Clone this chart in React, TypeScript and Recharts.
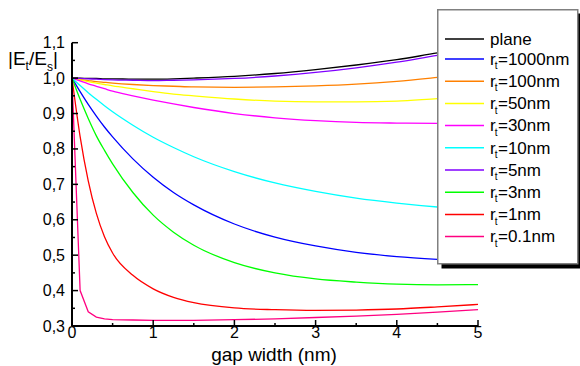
import { LineChart, Line, XAxis, YAxis } from "recharts";

const gapWidth = [0, 0.1, 0.2, 0.3, 0.4, 0.5, 0.75, 1, 1.25, 1.5, 2, 2.5, 3, 3.5, 4, 4.5, 5];

const plane = [1.0, 1.0, 0.999, 0.999, 0.998, 0.998, 0.997, 0.997, 0.998, 1.0, 1.005, 1.013, 1.024, 1.037, 1.052, 1.071, 1.088];
const rt1000 = [1.0, 0.962, 0.926, 0.893, 0.862, 0.834, 0.772, 0.72, 0.677, 0.642, 0.588, 0.551, 0.526, 0.508, 0.496, 0.488, 0.482];
const rt100 = [1.0, 0.996, 0.993, 0.99, 0.988, 0.986, 0.982, 0.979, 0.977, 0.975, 0.974, 0.975, 0.978, 0.983, 0.991, 1.002, 1.014];
const rt50 = [1.0, 0.995, 0.99, 0.986, 0.982, 0.978, 0.97, 0.962, 0.955, 0.95, 0.941, 0.935, 0.933, 0.933, 0.935, 0.942, 0.948];
const rt30 = [1.0, 0.992, 0.984, 0.977, 0.97, 0.963, 0.95, 0.938, 0.927, 0.917, 0.9, 0.888, 0.88, 0.875, 0.873, 0.872, 0.872];
const rt10 = [1.0, 0.979, 0.959, 0.94, 0.922, 0.905, 0.867, 0.833, 0.804, 0.778, 0.736, 0.704, 0.68, 0.661, 0.647, 0.636, 0.628];
const rt5 = [1.0, 0.999, 0.998, 0.997, 0.996, 0.995, 0.994, 0.993, 0.994, 0.995, 0.999, 1.006, 1.016, 1.029, 1.045, 1.064, 1.081];
const rt3 = [1.0, 0.94, 0.886, 0.837, 0.796, 0.758, 0.677, 0.613, 0.565, 0.528, 0.479, 0.45, 0.433, 0.424, 0.418, 0.416, 0.417];
const rt1 = [1.0, 0.835, 0.71, 0.618, 0.552, 0.506, 0.443, 0.405, 0.381, 0.366, 0.351, 0.346, 0.344, 0.345, 0.348, 0.354, 0.361];
const rt01 = [1.0, 0.4, 0.34, 0.325, 0.32, 0.318, 0.317, 0.316, 0.316, 0.316, 0.318, 0.32, 0.324, 0.328, 0.333, 0.339, 0.346];

const seriesValues = [plane, rt1000, rt100, rt50, rt30, rt10, rt5, rt3, rt1, rt01];
const seriesNames = ["plane", "1000nm", "100nm", "50nm", "30nm", "10nm", "5nm", "3nm", "1nm", "0.1nm"];
const seriesColors = ["#000000", "#0000ff", "#ff8000", "#ffff00", "#ff00ff", "#00ffff", "#8000ff", "#00ff00", "#ff0000", "#ff0080"];

const xTicks = [0, 0.5, 1, 1.5, 2, 2.5, 3, 3.5, 4, 4.5, 5];
const yTicks = [0.3, 0.35, 0.4, 0.45, 0.5, 0.55, 0.6, 0.65, 0.7, 0.75, 0.8, 0.85, 0.9, 0.95, 1.0, 1.05, 1.1];

const rows = gapWidth.map((x, i) => {
  const row: Record<string, number> = { x };
  seriesValues.forEach((s, k) => {
    row[`s${k}`] = s[i];
  });
  return row;
});

const FONT = "Arial, 'Liberation Sans', sans-serif";
const LEFT = 72;
const BOTTOM = 326;

const isMajor = (v: number, step: number) => Math.abs(v / step - Math.round(v / step)) < 1e-6;

const YTick = ({ y, payload }: any) => {
  const major = isMajor(payload.value, 0.1);
  return (
    <g>
      <line x1={LEFT} x2={LEFT + (major ? 6 : 3)} y1={y} y2={y} stroke="#000" strokeWidth={1.5} />
      {major && (
        <text x={65} y={y + 5.5} textAnchor="end" fontSize={16} fontFamily={FONT} fill="#000">
          {payload.value.toFixed(1).replace(".", ",")}
        </text>
      )}
    </g>
  );
};

const XTick = ({ x, payload }: any) => {
  const major = isMajor(payload.value, 1);
  return (
    <g>
      <line x1={x} x2={x} y1={BOTTOM} y2={BOTTOM - (major ? 6 : 3)} stroke="#000" strokeWidth={1.5} />
      {major && (
        <text x={x} y={BOTTOM + 11.5} textAnchor="middle" fontSize={16} fontFamily={FONT} fill="#000">
          {payload.value}
        </text>
      )}
    </g>
  );
};

const LegendBox = () => (
  <svg width={146} height={262} style={{ position: "absolute", left: 437, top: 9 }}>
    <rect x={4.5} y={4.5} width={141} height={255} fill="#000" />
    <rect x={0.75} y={0.75} width={140} height={254} fill="#fff" stroke="#808080" strokeWidth={1.5} />
    {seriesNames.map((name, i) => {
      const y = i === 0 ? 30 : 50 + (i - 1) * 22.2;
      return (
        <g key={name}>
          <line x1={8} x2={47} y1={y} y2={y} stroke={seriesColors[i]} strokeWidth={1.5} />
          <text x={53} y={y + 5.7} fontSize={17} fontFamily={FONT} fill="#000">
            {i === 0 ? (
              name
            ) : (
              <>
                r
                <tspan fontSize={10} dx={-1} dy={4.5}>t</tspan>
                <tspan fontSize={17} dx={0.5} dy={-4.5}>={name}</tspan>
              </>
            )}
          </text>
        </g>
      );
    })}
  </svg>
);

export default function App() {
  return (
    <div style={{ position: "absolute", left: 0, top: 0, width: 580, height: 366, background: "#fff" }}>
      <LineChart width={580} height={366} data={rows} margin={{ top: 42.7, right: 102, bottom: 10, left: 8 }}>
        <XAxis
          type="number"
          dataKey="x"
          domain={[0, 5]}
          ticks={xTicks}
          interval={0}
          tickLine={false}
          tickSize={0}
          height={30}
          axisLine={{ stroke: "#000", strokeWidth: 2 }}
          tick={<XTick />}
          label={{
            content: () => (
              <text x={274} y={361} textAnchor="middle" fontSize={19} fontFamily={FONT} fill="#000">
                gap width (nm)
              </text>
            ),
          }}
        />
        <YAxis
          type="number"
          domain={[0.3, 1.1]}
          ticks={yTicks}
          interval={0}
          allowDataOverflow
          width={64}
          tickLine={false}
          tickSize={0}
          axisLine={{ stroke: "#000", strokeWidth: 2 }}
          tick={<YTick />}
          label={{
            content: () => (
              <text x={8} y={65} fontSize={19} fontFamily={FONT} fill="#000">
                |E
                <tspan fontSize={12} dy={5}>t</tspan>
                <tspan fontSize={19} dy={-5}>/E</tspan>
                <tspan fontSize={12} dy={6}>s</tspan>
                <tspan fontSize={19} dy={-6}>|</tspan>
              </text>
            ),
          }}
        />
        {seriesValues.map((_, k) => (
          <Line
            key={k}
            type={k === 9 ? "linear" : "monotone"}
            dataKey={`s${k}`}
            stroke={seriesColors[k]}
            strokeWidth={1.3}
            dot={false}
            isAnimationActive={false}
          />
        ))}
      </LineChart>
      <LegendBox />
    </div>
  );
}
